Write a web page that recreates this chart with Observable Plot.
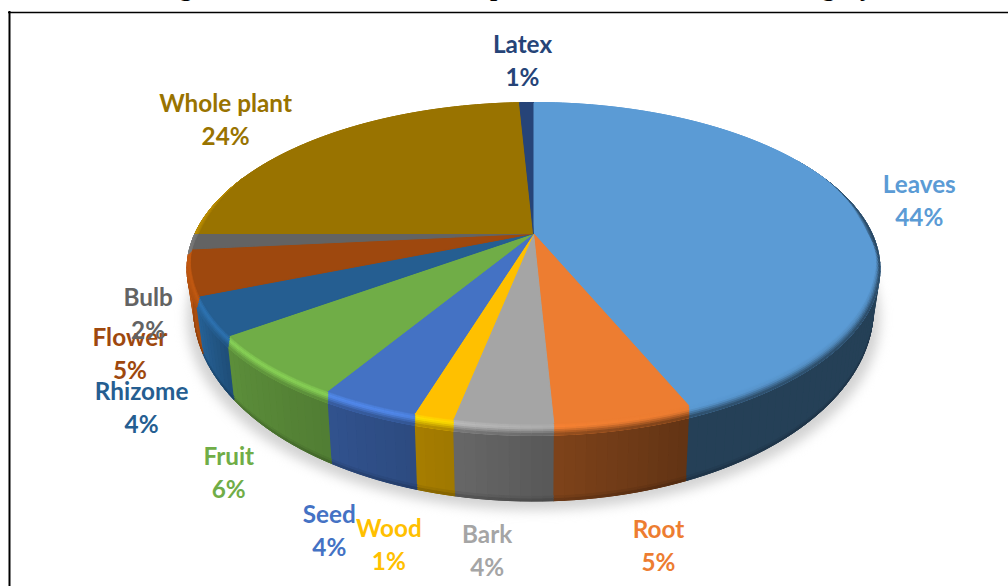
<!DOCTYPE html>
<html>
<head>
<meta charset="utf-8">
<script src="https://cdn.jsdelivr.net/npm/d3@7"></script>
<script src="https://cdn.jsdelivr.net/npm/@observablehq/plot@0.6"></script>
<style>html,body{margin:0;padding:0;background:#fff;overflow:hidden}svg{display:block}</style>
</head>
<body>
<div id="chart"></div>
<script>
// ---- data ----
const titleText = "Figure 3: The distribution of species in the different use category";
const categories = ["Leaves","Root","Bark","Wood","Seed","Fruit","Rhizome","Flower","Bulb","Whole plant","Latex"];
const sliceShares = [44,5.25,3.75,1.5,3.75,6.05,3.7,5,2,24.2,0.8];
const printedPercents = ["44%","5%","4%","1%","4%","6%","4%","5%","2%","24%","1%"];
const colours = ["#5b9bd5","#ed7d31","#a5a5a5","#ffc000","#4472c4","#70ad47","#255e91","#9e480e","#636363","#997300","#264478"];

// ---- layout: a perspective disc (top face and floor) ----
const k = -0.213;
const topFace = {cx:533, cy:233, a:338.5, b:158.9};
const floorFace = {cx:533, cy:267.5, a:332, b:183.4};
const labelNudge = [[66,-6],[35,114],[-16,114],[-45,115],[-40,113],[-42,93],[-68,78],[-58,71],[-43,68],[-94,-20],[-4,-44]];

const project = (f, deg, r = 1) => {
  const t = deg * Math.PI / 180, X = r * Math.sin(t), Y = -r * Math.cos(t), den = 1 + k * Y;
  return [f.cx + f.a * X / den, f.cy + f.b * Y / den];
};
const lerp = (p, q, t) => [p[0] + (q[0] - p[0]) * t, p[1] + (q[1] - p[1]) * t];
const mul = (c, s) => { const o = d3.rgb(c); return d3.rgb(o.r * s, o.g * s, o.b * s).formatHex(); };

// where the flat face stops and the rounded bevel begins
const bevelFade = d3.scaleLinear().domain([68,84,280,292]).range([0,1,1,0]).clamp(true);
const inner = deg => {
  const [x, y] = project(topFace, deg), t = deg * Math.PI / 180, X = Math.sin(t), Y = -Math.cos(t), f = bevelFade(deg);
  const up = 12 * Math.max(0, Math.min(1, Y / .3));
  return [topFace.cx + (x - topFace.cx) * (1 - .014 * X * X * X * X * f), y - up * f];
};

// slices from the shares
let run = 0;
const slices = categories.map((name, i) => {
  const a0 = run / 100 * 360; run += sliceShares[i];
  return {name, colour: colours[i], a0, a1: run / 100 * 360, pct: printedPercents[i], i};
});

const wallShade = d3.scaleLinear().domain([158,177,190,209,231,245,262]).range([.41,.53,.62,.72,.82,1.05,1.25]).clamp(true);
const rimGlow = d3.scaleLinear().domain([76,88,93,100,150,175,200,260,270,285]).range([1,.74,.62,.86,.96,1.04,1.22,1.25,1.1,1]).clamp(true);

const polys = [];
let pid = 0;
const addPoly = (pts, fill) => { const id = pid++; pts.forEach(p => polys.push({id, x:p[0], y:p[1], fill})); };

// solid underlay per slice, so the shading strips leave no seams
slices.forEach(sl => {
  const lo = Math.max(sl.a0, 60), hi = Math.min(sl.a1, 292);
  if (hi <= lo) return;
  const n = Math.ceil((hi - lo) / 1.5), a = [], b = [];
  for (let j = 0; j <= n; j++) {
    const d = lo + (hi - lo) * j / n;
    a.push(project(topFace, d)); b.push(project(floorFace, d));
  }
  addPoly(a.concat(b.reverse()), mul(sl.colour, wallShade((lo + hi) / 2)));
});

// walls: plain body, darker at the foot
const wallBands = [[0,.93],[.93,.97],[.97,1]];
const wallColour = (c, deg, t) => {
  const s = wallShade(deg);
  return t > .93 ? mul(c, s * (1 - (t - .93) * 3)) : mul(c, s);
};
const bevelBands = [[0,.15],[.15,.3],[.3,.4],[.4,.55],[.55,.7],[.7,.85],[.85,1]];
const bevelColour = (c, deg, u) => {
  const g = mul(c, rimGlow(deg));
  return u < .4 ? d3.interpolateRgb(c, g)(u / .4)
                : d3.interpolateRgb(g, mul(c, wallShade(deg)))((u - .4) / .65);
};
const rimParts = [];
slices.forEach(sl => {
  const n = Math.max(1, Math.ceil((sl.a1 - sl.a0) / 1.5));
  for (let j = 0; j < n; j++) {
    const d0 = sl.a0 + (sl.a1 - sl.a0) * j / n, d1 = sl.a0 + (sl.a1 - sl.a0) * (j + 1) / n, dm = (d0 + d1) / 2;
    if (dm < 60 || dm > 292) continue;
    wallBands.forEach(([t0, t1]) => {
      const p0 = lerp(project(topFace, d0), project(floorFace, d0), t0),
            p1 = lerp(project(topFace, d1), project(floorFace, d1), t0),
            p2 = lerp(project(topFace, d1), project(floorFace, d1), t1),
            p3 = lerp(project(topFace, d0), project(floorFace, d0), t1);
      addPoly([p0, p1, p2, p3], wallColour(sl.colour, dm, (t0 + t1) / 2));
    });
    if (dm > 68) rimParts.push({sl, d0, d1, dm});
  }
});

// top faces
slices.forEach(sl => {
  const pts = [[topFace.cx, topFace.cy]];
  const n = Math.ceil((sl.a1 - sl.a0) / 1.5);
  for (let j = 0; j <= n; j++) pts.push(project(topFace, sl.a0 + (sl.a1 - sl.a0) * j / n));
  addPoly(pts, sl.colour);
});
// bevel strips between the flat face and the wall
rimParts.forEach(({sl, d0, d1, dm}) => {
  bevelBands.forEach(([u0, u1]) => {
    const a0 = inner(d0), a1 = inner(d1), b0 = project(topFace, d0), b1 = project(topFace, d1);
    addPoly([lerp(a0, b0, u0), lerp(a1, b1, u0), lerp(a1, b1, u1), lerp(a0, b0, u1)], bevelColour(sl.colour, dm, (u0 + u1) / 2));
  });
});
// flat faces again on top of the slice edges, ending at the bevel
slices.forEach(sl => {
  const pts = [[topFace.cx, topFace.cy]];
  const n = Math.ceil((sl.a1 - sl.a0) / 1.5);
  for (let j = 0; j <= n; j++) pts.push(inner(sl.a0 + (sl.a1 - sl.a0) * j / n));
  addPoly(pts, sl.colour);
});

// soft shadow
const shadow = d3.range(0, 361, 3).map(d => {
  const p = project({...floorFace, cy: floorFace.cy + 9, a: floorFace.a * 1.02}, d);
  return {x: p[0], y: p[1]};
});

const labels = slices.map(sl => {
  const rim = project(topFace, (sl.a0 + sl.a1) / 2);
  return {x: rim[0] + labelNudge[sl.i][0], y: rim[1] + labelNudge[sl.i][1], text: sl.name + "\n" + sl.pct, colour: sl.colour};
});

const chart = Plot.plot({
  width: 1008, height: 586,
  margin: 0,
  style: {background: "#fff"},
  x: {domain: [0, 1008], range: [0, 1008], axis: null},
  y: {domain: [0, 586], range: [0, 586], axis: null},
  color: {type: "identity"},
  marks: [
    Plot.line(shadow, {x:"x", y:"y", fill:"#d2d2d2", stroke:"none", imageFilter:"blur(6px)"}),
    Plot.line(polys, {x:"x", y:"y", z:"id", fill:"fill", stroke:"fill", strokeWidth:1, curve:"linear"}),
    Plot.text(labels, {x:"x", y:"y", text:"text", fill:"colour", fontSize:24.3, fontWeight:700,
      fontFamily:"Lato", lineHeight:1.36, textAnchor:"middle", lineAnchor:"middle"}),
    Plot.text([titleText], {x:()=>156, y:()=>-4.5, text:d=>d, textAnchor:"start", lineAnchor:"bottom",
      fontFamily:"Liberation Serif", fontWeight:700, fontSize:26, fill:"#000"}),
    Plot.ruleY([12], {x1:8, x2:1008, stroke:"#000", strokeWidth:1.5}),
    Plot.ruleX([9], {y1:11, y2:586, stroke:"#000", strokeWidth:2})
  ]
});
document.getElementById("chart").append(chart);
</script>
</body>
</html>
